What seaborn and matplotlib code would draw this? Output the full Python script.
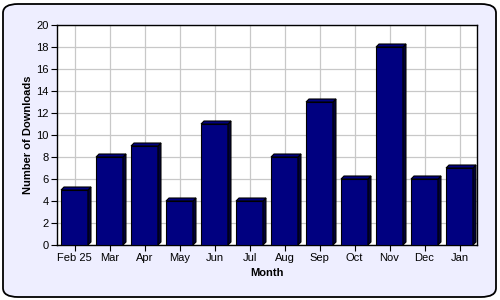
import matplotlib
matplotlib.use("Agg")
import matplotlib.pyplot as plt
import seaborn as sns
import pandas as pd
from matplotlib.patches import FancyBboxPatch, Polygon

months = ["Feb 25", "Mar", "Apr", "May", "Jun", "Jul", "Aug", "Sep", "Oct", "Nov", "Dec", "Jan"]
downloads = [5, 8, 9, 4, 11, 4, 8, 13, 6, 18, 6, 7]
y_ticks = list(range(0, 21, 2))

df = pd.DataFrame({"Month": months, "Downloads": downloads})

sns.set_theme(style="white")
plt.rcParams["font.family"] = ["Liberation Sans", "DejaVu Sans"]
plt.rcParams["text.color"] = "black"
plt.rcParams["axes.labelcolor"] = "black"
plt.rcParams["xtick.color"] = "black"
plt.rcParams["ytick.color"] = "black"

W, H = 500, 300
fig = plt.figure(figsize=(5, 3), dpi=100)
fig.patch.set_facecolor("white")
border = FancyBboxPatch((3 / W, 3 / H), 493 / W, 293 / H,
                        boxstyle="round,pad=0,rounding_size=0.03",
                        transform=fig.transFigure, facecolor="#EEEEFF",
                        edgecolor="black", linewidth=1.3, zorder=-5)
fig.patches.append(border)

left, bottom, right, top = 57, 245, 477, 25
ax = fig.add_axes([left / W, (H - bottom) / H, (right - left) / W, (bottom - top) / H])
ax.set_zorder(2)
ax.set_facecolor("white")

sns.barplot(data=df, x="Month", y="Downloads", ax=ax, color="#000080",
            saturation=1, width=0.77, edgecolor="black", linewidth=0.8, zorder=3)

ax.set_ylim(0, 20)
ax.set_xlim(-0.5, len(months) - 0.5)
ax.set_yticks(y_ticks)
ax.set_yticklabels([str(v) for v in y_ticks])
ax.grid(True, color="#C8C8C8", linewidth=0.9, zorder=0)
ax.set_axisbelow(True)

# 3D depth in data units
d_px = 3
ax_w_px = right - left
ax_h_px = bottom - top
dx = d_px / ax_w_px * (len(months))
dy = d_px / ax_h_px * 20
for p in list(ax.patches)[:len(months)]:
    x0 = p.get_x()
    w = p.get_width()
    h = p.get_height()
    side = Polygon([(x0 + w, 0), (x0 + w, h), (x0 + w + dx, h + dy), (x0 + w + dx, dy)],
                   closed=True, facecolor="#00003A", edgecolor="black", linewidth=0.8, zorder=3)
    topf = Polygon([(x0, h), (x0 + w, h), (x0 + w + dx, h + dy), (x0 + dx, h + dy)],
                   closed=True, facecolor="#000080", edgecolor="black", linewidth=0.8, zorder=3)
    ax.add_patch(side)
    ax.add_patch(topf)

for s in ax.spines.values():
    s.set_visible(True)
    s.set_color("black")
    s.set_linewidth(1.0)

ax.tick_params(axis="both", which="both", direction="out", length=4, width=0.8,
               color="black", labelcolor="black", labelsize=8, pad=2, left=True, bottom=True)
ax.set_xlabel("Month", fontsize=8, fontweight="bold", labelpad=3, color="black")
ax.set_ylabel("Number of Downloads", fontsize=8, fontweight="bold", labelpad=2, color="black")

fig.savefig("out.png", dpi=100, facecolor=fig.get_facecolor())
